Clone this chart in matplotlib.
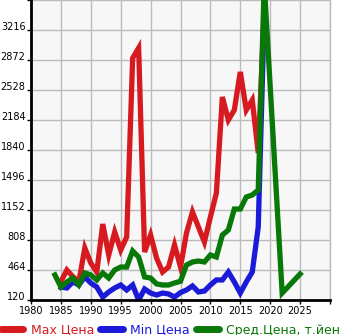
import matplotlib
matplotlib.use("Agg")
import matplotlib.pyplot as plt
from matplotlib.lines import Line2D

# yearly price data (thousands of yen)
max_years = list(range(1985, 2020))
max_price = [330, 464, 388, 330, 716, 544, 441, 991, 636, 900, 693, 843,
             2894, 3010, 670, 865, 601, 441, 498, 751, 498, 888, 1130, 957,
             785, 1072, 1346, 2448, 2184, 2299, 2735, 2299, 2413, 1805, 3450]

min_years = list(range(1985, 2020))
min_price = [269, 258, 327, 292, 384, 315, 269, 154, 212, 258, 292, 235,
             292, 120, 246, 200, 177, 200, 189, 154, 205, 235, 281, 212,
             223, 292, 350, 350, 441, 327, 200, 327, 441, 957, 3400]

avg_years = list(range(1984, 2020)) + [2022, 2025]
avg_price = [407, 269, 327, 372, 292, 430, 407, 350, 430, 372, 464, 498,
             498, 682, 613, 384, 372, 304, 292, 292, 315, 335, 521, 556,
             567, 556, 636, 613, 865, 923, 1163, 1163, 1301, 1324, 1381,
             3750, 200, 418]

yticks = [120, 464, 808, 1152, 1496, 1840, 2184, 2528, 2872, 3216, 3560]
xticks = list(range(1980, 2031, 5))

RED = "#d61a1f"
BLUE = "#1a1ad8"
GREEN = "#087808"

fig = plt.figure(figsize=(3.45, 3.35), dpi=100)
ax = fig.add_axes([31 / 345, 35 / 335, 299 / 345, 300 / 335])
ax.set_facecolor("#f7f7f7")

lw = 3.8
ax.plot(max_years, max_price, color=RED, lw=lw, solid_joinstyle="miter")
ax.plot(min_years, min_price, color=BLUE, lw=lw, solid_joinstyle="miter")
ax.plot(avg_years, avg_price, color=GREEN, lw=lw, solid_joinstyle="miter")

ax.set_xlim(1980, 2030)
ax.set_ylim(120, 3560)
ax.set_xticks(xticks)
ax.set_xticklabels([str(y) if y < 2030 else "" for y in xticks])
ax.set_yticks(yticks)
ax.set_yticklabels([str(v) if v < 3560 else "" for v in yticks])
ax.grid(True, color="#bbbbbb", lw=1.0)
ax.set_axisbelow(True)

for side in ("left", "bottom"):
    ax.spines[side].set_color("black")
    ax.spines[side].set_linewidth(2.0)
ax.spines["right"].set_color("#bbbbbb")
ax.spines["right"].set_linewidth(1.0)
ax.spines["top"].set_visible(False)

ax.tick_params(axis="both", labelsize=7, length=3, width=1, pad=1,
               color="black", labelcolor="black")
for lab in ax.get_yticklabels():
    lab.set_verticalalignment("baseline")

handles = [
    Line2D([], [], color=RED, lw=5, solid_capstyle="round"),
    Line2D([], [], color=BLUE, lw=5, solid_capstyle="round"),
    Line2D([], [], color=GREEN, lw=5, solid_capstyle="round"),
]
labels = ["Max Цена", "Min Цена", "Сред.Цена, т.йен"]
leg = fig.legend(handles, labels, loc="lower left", bbox_to_anchor=(-0.005, -0.012),
                 ncol=3, frameon=False, fontsize=9, handlelength=1.8,
                 handletextpad=0.6, columnspacing=0.5, borderpad=0.2,
                 borderaxespad=0)
for txt, c in zip(leg.get_texts(), (RED, BLUE, GREEN)):
    txt.set_color(c)

fig.savefig("out.png", dpi=100)
